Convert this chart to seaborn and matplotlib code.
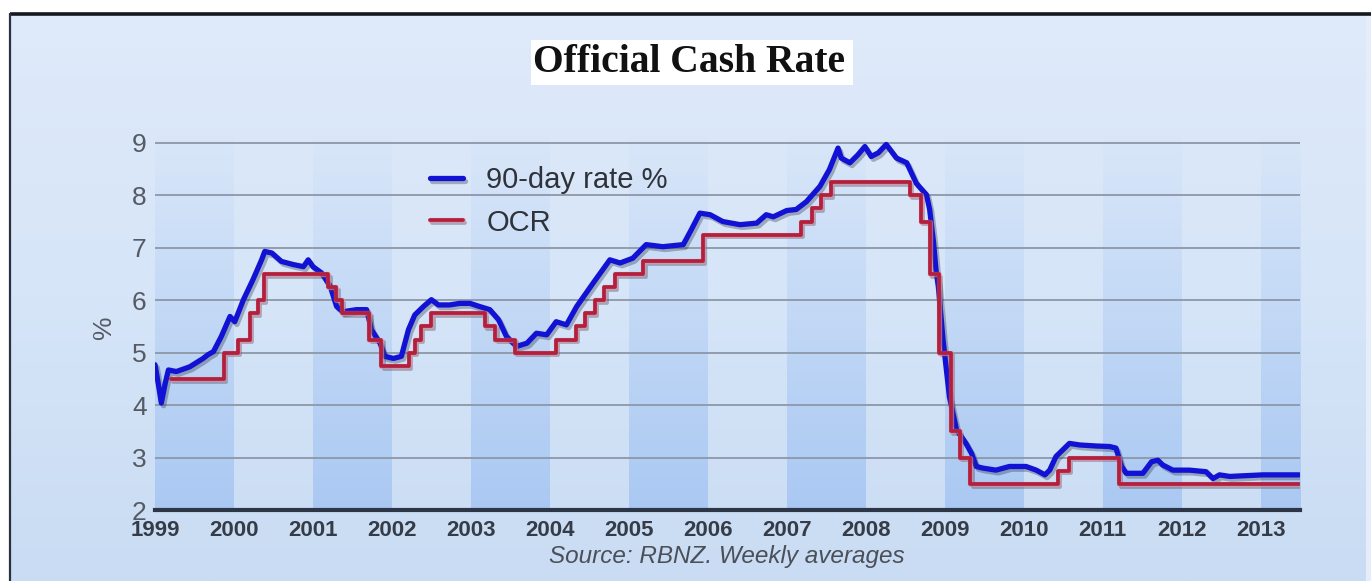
import numpy as np
import pandas as pd
import matplotlib
matplotlib.use("Agg")
import matplotlib.pyplot as plt
import matplotlib.patheffects as pe
from matplotlib.patches import Rectangle
from matplotlib.colors import LinearSegmentedColormap
import seaborn as sns

# ---------------- data ----------------
rate90_year = [1999.00, 1999.04, 1999.08, 1999.13, 1999.17, 1999.27, 1999.44, 1999.61, 1999.67, 1999.74,
               1999.84, 1999.95, 2000.01, 2000.12, 2000.24, 2000.35, 2000.39, 2000.48, 2000.60, 2000.75,
               2000.88, 2000.94, 2001.00, 2001.11, 2001.22, 2001.30, 2001.38, 2001.55, 2001.68, 2001.74,
               2001.85, 2001.91, 2002.02, 2002.12, 2002.21, 2002.29, 2002.40, 2002.50, 2002.59, 2002.73,
               2002.86, 2002.99, 2003.11, 2003.24, 2003.35, 2003.45, 2003.58, 2003.71, 2003.83, 2003.96,
               2004.08, 2004.21, 2004.34, 2004.55, 2004.76, 2004.89, 2005.05, 2005.22, 2005.43, 2005.69,
               2005.79, 2005.90, 2006.03, 2006.19, 2006.41, 2006.62, 2006.74, 2006.83, 2007.00, 2007.12,
               2007.25, 2007.42, 2007.54, 2007.65, 2007.69, 2007.80, 2007.90, 2007.99, 2008.07, 2008.16,
               2008.26, 2008.39, 2008.52, 2008.64, 2008.77, 2008.81, 2008.86, 2008.89, 2008.92, 2008.98,
               2009.06, 2009.15, 2009.27, 2009.34, 2009.40, 2009.48, 2009.65, 2009.82, 2010.03, 2010.16,
               2010.27, 2010.33, 2010.41, 2010.58, 2010.71, 2010.92, 2011.09, 2011.17, 2011.24, 2011.30,
               2011.51, 2011.62, 2011.70, 2011.76, 2011.89, 2012.10, 2012.31, 2012.40, 2012.48, 2012.61,
               2013.03, 2013.49]
rate90_value = [4.77, 4.42, 4.04, 4.42, 4.67, 4.64, 4.73, 4.89, 4.96, 5.02,
                5.31, 5.69, 5.59, 6.01, 6.39, 6.77, 6.93, 6.90, 6.74, 6.68,
                6.64, 6.77, 6.64, 6.52, 6.26, 5.88, 5.78, 5.82, 5.82, 5.44,
                5.18, 4.93, 4.89, 4.93, 5.44, 5.72, 5.88, 6.01, 5.91, 5.91,
                5.94, 5.94, 5.88, 5.82, 5.63, 5.31, 5.12, 5.18, 5.37, 5.34,
                5.59, 5.53, 5.88, 6.33, 6.77, 6.71, 6.80, 7.06, 7.02, 7.06,
                7.34, 7.66, 7.63, 7.50, 7.44, 7.47, 7.63, 7.59, 7.71, 7.73,
                7.88, 8.17, 8.49, 8.90, 8.71, 8.62, 8.77, 8.93, 8.74, 8.81,
                8.97, 8.71, 8.62, 8.23, 8.01, 7.73, 7.09, 6.58, 6.26, 5.24,
                4.16, 3.53, 3.27, 3.08, 2.83, 2.80, 2.76, 2.83, 2.83, 2.76,
                2.67, 2.76, 3.02, 3.27, 3.24, 3.22, 3.21, 3.18, 2.83, 2.70,
                2.70, 2.92, 2.95, 2.86, 2.76, 2.76, 2.73, 2.60, 2.67, 2.64,
                2.67, 2.67]

ocr_date = ["1999-03-17", "1999-11-17", "2000-01-19", "2000-03-15", "2000-04-19", "2000-05-17",
            "2001-03-14", "2001-04-19", "2001-05-16", "2001-09-19", "2001-11-14",
            "2002-03-20", "2002-04-17", "2002-05-15", "2002-07-03",
            "2003-03-06", "2003-04-24", "2003-07-24",
            "2004-01-29", "2004-04-29", "2004-06-10", "2004-07-29", "2004-09-09", "2004-10-28",
            "2005-03-10", "2005-12-08",
            "2007-03-08", "2007-04-26", "2007-06-07", "2007-07-26",
            "2008-07-24", "2008-09-11", "2008-10-23", "2008-12-04",
            "2009-01-29", "2009-03-12", "2009-04-30",
            "2010-06-10", "2010-07-29", "2011-03-17", "2013-06-28"]
ocr_value = [4.50, 5.00, 5.25, 5.75, 6.00, 6.50,
             6.25, 6.00, 5.75, 5.25, 4.75,
             5.00, 5.25, 5.50, 5.75,
             5.50, 5.25, 5.00,
             5.25, 5.50, 5.75, 6.00, 6.25, 6.50,
             6.75, 7.25,
             7.50, 7.75, 8.00, 8.25,
             8.00, 7.50, 6.50, 5.00,
             3.50, 3.00, 2.50,
             2.75, 3.00, 2.50, 2.50]

year_ticks = list(range(1999, 2014))
year_labels = [str(y) for y in year_ticks]
pct_ticks = [2, 3, 4, 5, 6, 7, 8, 9]
pct_labels = [str(v) for v in pct_ticks]

title_text = "Official Cash Rate"
source_text = "Source: RBNZ. Weekly averages"
series_labels = ["90-day rate %", "OCR"]

# ---------------- frames ----------------
d = pd.to_datetime(pd.Series(ocr_date))
ocr_year = (d.dt.year + (d.dt.dayofyear - 1) / 365.25).tolist()
df90 = pd.DataFrame({"year": rate90_year, "rate": rate90_value})
dfocr = pd.DataFrame({"year": ocr_year, "rate": ocr_value})

sns.set_style("white")
plt.rcParams["font.family"] = ["Liberation Sans", "DejaVu Sans"]

W, H = 1371, 581
fig = plt.figure(figsize=(W / 100, H / 100), dpi=100)
fig.patch.set_facecolor("white")

# background canvas in pixel coordinates
bg = fig.add_axes([0, 0, 1, 1], zorder=-10)
bg.set_xlim(0, W)
bg.set_ylim(H, 0)
bg.axis("off")
grad = np.linspace(0, 1, 256)[:, None]
cmap_bg = LinearSegmentedColormap.from_list("bg", ["#dfeafa", "#d6e5f8", "#c9dcf3"])
bg.imshow(grad, aspect="auto", cmap=cmap_bg, extent=[10, W, H, 14], zorder=0)
bg.add_patch(Rectangle((1366, 14), 5, H - 14, facecolor="#e4edf9", edgecolor="none", zorder=1))
bg.plot([10, W], [13.5, 13.5], color="#15181e", lw=2.6, solid_capstyle="butt", zorder=2)
bg.plot([10, 10], [13, H], color="#2a3242", lw=1.6, solid_capstyle="butt", zorder=2)
bg.add_patch(Rectangle((531, 40), 322, 45, facecolor="white", edgecolor="none", zorder=2))

# main axes
x0, x1 = 1999.0, 2013.5
y0, y1 = 2.0, 9.15
ax = fig.add_axes([155 / W, 71 / H, (1300 - 155) / W, (510 - 135) / H])
ax.patch.set_alpha(0)

# alternating year bands (gradient)
band_rgba = np.zeros((256, 1, 4))
band_rgba[..., 0] = 0.56
band_rgba[..., 1] = 0.72
band_rgba[..., 2] = 0.95
band_rgba[:, 0, 3] = np.linspace(0.03, 0.58, 256) ** 1.1
for yr in year_ticks[::2]:
    ax.imshow(band_rgba, aspect="auto", extent=[yr, min(yr + 1, x1), y0, y1],
              origin="upper", zorder=0, interpolation="bilinear")

shadow = pe.SimpleLineShadow(offset=(1.6, -2.0), shadow_color="#30364a", alpha=0.35)
sns.lineplot(data=df90, x="year", y="rate", ax=ax, color="#1212d4", lw=3.8,
             label=series_labels[0], sort=False, estimator=None, zorder=4,
             solid_joinstyle="round", path_effects=[shadow, pe.Normal()])
sns.lineplot(data=dfocr, x="year", y="rate", ax=ax, color="#b3203e", lw=2.7,
             label=series_labels[1], sort=False, estimator=None, zorder=5,
             drawstyle="steps-post",
             path_effects=[pe.SimpleLineShadow(offset=(1.6, -2.0), shadow_color="#40384a", alpha=0.35),
                           pe.Stroke(linewidth=3.8, foreground="#e690a0", alpha=0.6), pe.Normal()])

ax.set_xlim(x0, x1)
ax.set_ylim(y0, y1)
ax.set_xticks(year_ticks, labels=year_labels)
ax.set_yticks(pct_ticks, labels=pct_labels)
ax.tick_params(axis="x", length=0, pad=7, labelsize=16, labelcolor="#363c47")
for lbl in ax.get_xticklabels():
    lbl.set_fontweight("bold")
ax.tick_params(axis="y", length=0, pad=6, labelsize=19, labelcolor="#555a63")
ax.grid(axis="y", color="#8c97a8", lw=1.3)
ax.grid(axis="x", visible=False)
for s in ["top", "right", "left"]:
    ax.spines[s].set_visible(False)
ax.spines["bottom"].set_color("#2c3646")
ax.spines["bottom"].set_linewidth(3)
ax.spines["bottom"].set_zorder(6)
ax.set_xlabel("")
ax.set_ylabel("%", fontsize=19, color="#555a63")
ax.yaxis.set_label_coords((116 - 155) / (1300 - 155), (510 - 327) / 375)

leg = ax.legend(loc="upper left", bbox_to_anchor=((430 - 155) / 1145, (510 - 166) / 375),
                frameon=False, fontsize=21, handlelength=1.13, handletextpad=0.8,
                labelspacing=0.5, borderaxespad=0, borderpad=0)
for t in leg.get_texts():
    t.set_color("#2e323a")

fig.text(689 / W, 1 - 63 / H, title_text, ha="center", va="center", fontsize=28.5,
         fontweight="bold", family="Liberation Serif", color="#111111")
fig.text(727 / W, 1 - 556 / H, source_text, ha="center", va="center", fontsize=17.5,
         style="italic", color="#4a4f58")

fig.savefig("out.png", dpi=100)
